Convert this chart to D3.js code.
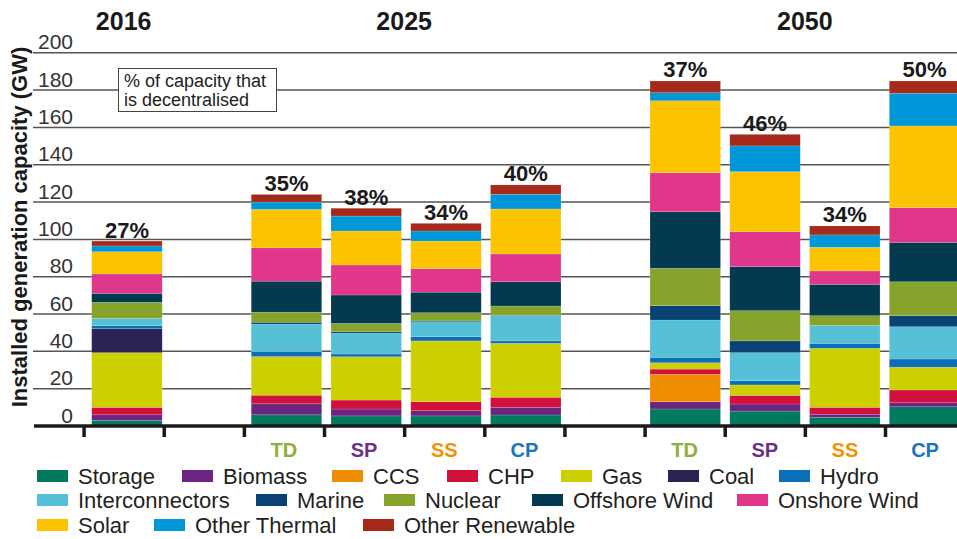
<!DOCTYPE html>
<html>
<head>
<meta charset="utf-8">
<script src="https://cdn.jsdelivr.net/npm/d3@7"></script>
<style>
  html, body { margin: 0; padding: 0; background: #fff; }
  svg { display: block; font-family: "Liberation Sans", Arial, Helvetica, sans-serif; }
</style>
</head>
<body>
<svg id="chart" width="957" height="539"></svg>
<script>
// ---------- data ----------
const years = ["2016", "2025", "2050"];
const scenarios = ["TD", "SP", "SS", "CP"];
const categories = ["2016", "2025-TD", "2025-SP", "2025-SS", "2025-CP", "2050-TD", "2050-SP", "2050-SS", "2050-CP"];
const decentralised = ["27%", "35%", "38%", "34%", "40%", "37%", "46%", "34%", "50%"];
const yTicks = [0, 20, 40, 60, 80, 100, 120, 140, 160, 180, 200];

const seriesNames = ["Storage", "Biomass", "CCS", "CHP", "Gas", "Coal", "Hydro", "Interconnectors",
  "Marine", "Nuclear", "Offshore Wind", "Onshore Wind", "Solar", "Other Thermal", "Other Renewable"];

const storage        = [3.0, 6.0, 5.4, 5.4, 5.9, 9.1, 8.0, 4.7, 10.3];
const biomass        = [3.0, 5.9, 3.7, 2.8, 4.1, 3.9, 3.8, 1.6, 2.2];
const ccs            = [0, 0, 0, 0, 0, 14.7, 0, 0, 0];
const chp            = [4.0, 4.6, 4.8, 4.8, 5.4, 2.8, 4.6, 3.7, 6.8];
const gas            = [29.3, 20.7, 23.2, 32.6, 28.9, 3.4, 5.6, 31.6, 12.2];
const coal           = [12.9, 0, 0, 0, 0, 0, 0, 0, 0];
const hydro          = [1.6, 2.6, 1.5, 2.3, 1.3, 2.9, 2.3, 2.7, 4.4];
const interconnectors= [3.9, 14.8, 11.1, 8.0, 13.5, 20.0, 15.0, 9.5, 17.3];
const marine         = [0, 1.0, 0.8, 0.4, 0.3, 7.7, 6.3, 0, 5.9];
const nuclear        = [8.6, 5.4, 4.5, 4.4, 4.9, 20.0, 16.2, 5.3, 18.2];
const offshoreWind   = [4.8, 16.6, 15.2, 11.0, 13.0, 30.3, 23.6, 16.8, 21.1];
const onshoreWind    = [10.4, 17.9, 16.1, 12.6, 14.9, 20.9, 18.7, 7.2, 18.6];
const solar          = [11.9, 20.6, 18.2, 14.8, 24.1, 38.6, 32.2, 12.7, 43.8];
const otherThermal   = [3.1, 3.9, 8.0, 5.4, 7.9, 4.3, 13.8, 6.6, 17.5];
const otherRenewable = [2.6, 4.1, 4.2, 4.1, 5.0, 6.3, 6.2, 4.8, 6.6];

const seriesValues = [storage, biomass, ccs, chp, gas, coal, hydro, interconnectors,
  marine, nuclear, offshoreWind, onshoreWind, solar, otherThermal, otherRenewable];

const colors = ["#007a5e", "#6b2482", "#f08c00", "#d2103c", "#cdd000", "#2a2354", "#0b6eb8", "#55c0d6",
  "#0a4275", "#86a42c", "#033a4f", "#e0378a", "#fcc300", "#0097d9", "#a52a1a"];
const scenarioColors = ["#8db03a", "#6d2f8e", "#f39200", "#1b75bb"];

// ---------- layout ----------
const svg = d3.select("#chart");
const y = d3.scaleLinear().domain([0, 200]).range([426, 52.8]);
const xTick = d3.scaleLinear().domain([0, 10]).range([83.6, 885]);
const xBar = d3.scaleLinear().domain([0, 10]).range([91.7, 889.3]);
const barW = 70.5;

const rows = categories.map((c, i) => {
  const yr = c.split("-")[0];
  const slot = i + years.indexOf(yr);
  const row = { cat: c, slot: slot, year: yr, scen: c.split("-")[1] || null, pct: decentralised[i] };
  seriesNames.forEach((s, k) => row[s] = seriesValues[k][i]);
  return row;
});

// gridlines
const grid = svg.append("g");
grid.selectAll("line").data(yTicks.filter(d => d > 0)).join("line")
  .attr("x1", 33).attr("x2", 957)
  .attr("y1", d => y(d)).attr("y2", d => y(d))
  .attr("stroke", "#555").attr("stroke-width", 1.5);

// tick labels
svg.append("g").selectAll("text").data(yTicks).join("text")
  .attr("x", 73).attr("y", d => y(d) - 3.5)
  .attr("text-anchor", "end")
  .attr("font-size", 21).attr("fill", "#333")
  .text(d => d);

// stacked bars
const stack = d3.stack().keys(seriesNames);
const stacked = stack(rows);
const bars = svg.append("g");
stacked.forEach((layer, k) => {
  bars.append("g").attr("fill", colors[k])
    .selectAll("rect").data(layer.filter(d => d[1] - d[0] > 0)).join("rect")
    .attr("x", d => xBar(d.data.slot))
    .attr("width", barW)
    .attr("y", d => y(d[1]))
    .attr("height", d => y(d[0]) - y(d[1]))
    .attr("stroke", "rgba(255,255,255,0.25)").attr("stroke-width", 0.6);
});

// percent labels
svg.append("g").selectAll("text").data(rows).join("text")
  .attr("x", d => xBar(d.slot) + barW / 2)
  .attr("y", d => y(d3.sum(seriesNames, s => d[s])) - 3.5)
  .attr("text-anchor", "middle")
  .attr("font-size", 22).attr("font-weight", "bold").attr("fill", "#1a1a1a")
  .text(d => d.pct);

// x axis baseline + ticks
const xAxis = d3.axisBottom(xTick).tickValues(d3.range(0, 12)).tickSize(11).tickFormat("");
const ax = svg.append("g").attr("transform", "translate(0,426)").call(xAxis);
ax.select(".domain").remove();
ax.selectAll(".tick line").attr("stroke", "#1a1a1a").attr("stroke-width", 3.5);
svg.append("line").attr("x1", 34).attr("x2", 957).attr("y1", 426).attr("y2", 426)
  .attr("stroke", "#1a1a1a").attr("stroke-width", 3.5);

// scenario labels
svg.append("g").selectAll("text").data(rows.filter(d => d.scen)).join("text")
  .attr("x", d => xTick(d.slot + 0.5))
  .attr("y", 457)
  .attr("text-anchor", "middle")
  .attr("font-size", 20).attr("font-weight", "bold")
  .attr("fill", d => scenarioColors[scenarios.indexOf(d.scen)])
  .text(d => d.scen);

// year titles
const yearCenters = years.map(yr => {
  const slots = rows.filter(r => r.year === yr).map(r => r.slot);
  return { yr, c: (d3.min(slots) + d3.max(slots) + 1) / 2 };
});
svg.append("g").selectAll("text").data(yearCenters).join("text")
  .attr("x", d => xTick(d.c))
  .attr("y", 30)
  .attr("text-anchor", "middle")
  .attr("font-size", 25).attr("font-weight", "bold").attr("fill", "#1a1a1a")
  .text(d => d.yr);

// y title
svg.append("text")
  .attr("transform", "translate(27,227) rotate(-90)")
  .attr("text-anchor", "middle")
  .attr("font-size", 22).attr("font-weight", "bold").attr("fill", "#1a1a1a")
  .text("Installed generation capacity (GW)");

// annotation box
const note = svg.append("g");
note.append("rect").attr("x", 118.5).attr("y", 68.5).attr("width", 158).attr("height", 43)
  .attr("fill", "#fff").attr("stroke", "#444").attr("stroke-width", 1);
note.append("text").attr("x", 124).attr("y", 87).attr("font-size", 18).attr("fill", "#222").text("% of capacity that");
note.append("text").attr("x", 124).attr("y", 105.5).attr("font-size", 18).attr("fill", "#222").text("is decentralised");

// legend
const legendRows = [
  [0, 1, 2, 3, 4, 5, 6],
  [7, 8, 9, 10, 11],
  [12, 13, 14]
];
const legendX = [
  [37, 182, 332, 447, 561, 668, 779],
  [37, 256, 384, 532, 737],
  [37, 154, 363]
];
const legendY = [476, 500, 525];
const leg = svg.append("g");
legendRows.forEach((r, ri) => {
  r.forEach((k, j) => {
    const g = leg.append("g").attr("transform", `translate(${legendX[ri][j]},${legendY[ri]})`);
    g.append("rect").attr("x", 0).attr("y", -6).attr("width", 31).attr("height", 12).attr("fill", colors[k]);
    g.append("text").attr("x", 41).attr("y", 7.5).attr("font-size", 22).attr("fill", "#231f20").text(seriesNames[k]);
  });
});
</script>
</body>
</html>
